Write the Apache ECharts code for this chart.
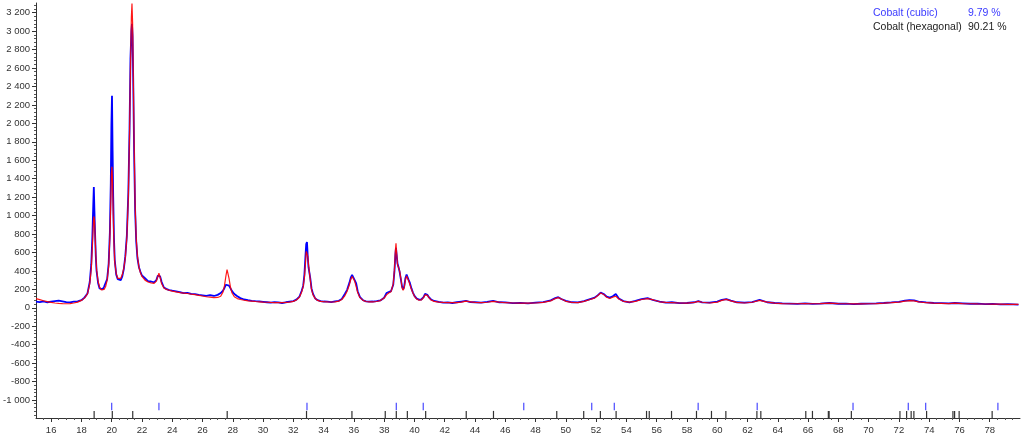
<!DOCTYPE html>
<html>
<head>
<meta charset="utf-8">
<script src="https://cdn.jsdelivr.net/npm/echarts@6/dist/echarts.min.js"></script>
<style>html,body{margin:0;padding:0;background:#fff}#c{width:1024px;height:438px}</style>
</head>
<body>
<div id="c"></div>
<script>
// 2-theta positions (degrees)
const twoTheta = [
15.0,15.25,15.5,15.75,16.0,16.25,16.5,16.75,17.0,17.25,17.5,17.75,18.0,18.2,
18.4,18.55,18.65,18.72,18.78,18.82,18.86,18.9,18.95,19.0,19.1,19.2,19.3,19.4,19.5,
19.6,19.7,19.8,19.88,19.94,19.98,20.02,20.06,20.1,20.15,20.2,20.3,20.4,20.5,20.6,
20.7,20.8,20.9,21.0,21.1,21.18,21.24,21.3,21.34,21.38,21.42,21.48,21.55,21.62,21.7,21.8,21.9,22.0,22.2,22.4,
22.6,22.8,22.95,23.05,23.12,23.2,23.3,23.45,23.6,23.8,24.0,24.25,24.5,24.75,25.0,25.25,25.5,25.75,26.0,26.25,26.5,26.75,27.0,27.2,
27.35,27.45,27.55,27.62,27.68,27.75,27.85,27.95,28.1,28.3,28.5,28.75,29.0,29.25,29.5,
29.75,30.0,30.25,30.5,30.75,31.0,31.25,31.5,31.75,32.0,32.2,32.4,32.55,
32.65,32.73,32.8,32.85,32.9,32.95,33.0,33.05,33.12,33.2,33.3,33.45,33.6,33.8,34.0,
34.25,34.5,34.75,35.0,35.2,35.4,
35.55,35.7,35.8,35.88,35.95,36.05,36.15,36.25,36.4,36.6,36.8,37.0,
37.25,37.5,37.75,38.0,38.15,38.3,38.45,38.6,
38.68,38.74,38.78,38.82,38.88,38.95,39.02,39.1,39.18,39.25,39.32,
39.4,39.48,39.55,39.62,39.7,39.8,39.9,40.0,40.15,40.3,40.45,
40.6,40.7,40.78,40.86,40.95,41.1,41.3,41.6,41.9,42.2,42.5,42.8,
43.1,43.4,43.7,44.0,44.4,44.8,45.2,45.6,46.0,46.5,47.0,47.5,48.0,48.5,49.0,49.3,49.5,49.7,50.0,50.4,
50.8,51.2,51.6,51.9,52.1,52.3,52.5,52.7,52.9,53.1,53.3,53.5,53.8,54.2,54.6,55.0,55.4,55.8,56.2,56.6,
57.0,57.5,58.0,58.5,58.75,59.0,59.5,60.0,60.3,60.6,60.9,61.3,61.8,62.3,62.8,63.3,63.8,64.3,64.8,65.3,
65.8,66.3,66.8,67.4,68.0,68.5,69.0,69.5,70.0,70.5,71.0,71.5,72.0,72.4,72.7,73.0,73.3,73.8,74.3,74.8,
75.3,75.7,76.2,76.7,77.2,77.7,78.2,78.7,79.2,79.9
];
// observed intensity (blue)
const observed = [
68,62,70,60,66,72,78,70,62,58,66,70,82,110,
155,280,470,760,1100,1310,1050,820,560,400,270,210,190,200,230,
250,310,480,820,1350,1980,2300,1700,1200,760,520,360,310,330,300,
340,420,560,780,1250,1950,2700,3000,3080,2950,2500,1700,1050,720,540,440,390,350,320,290,
285,275,300,350,370,340,280,220,205,192,185,178,170,158,162,150,148,140,135,130,138,128,140,160,
185,215,250,268,262,240,210,180,150,125,105,90,82,75,72,
70,65,60,55,62,58,52,60,66,72,88,120,185,
240,360,560,690,713,560,440,430,320,210,150,100,82,72,68,
66,62,70,76,95,150,
195,270,330,358,345,300,265,180,115,82,70,66,
68,72,80,110,160,170,180,250,
400,580,650,580,480,440,390,310,230,200,230,
320,360,345,300,270,210,165,130,100,88,90,
115,150,160,140,115,90,74,64,56,58,52,60,
68,75,62,60,55,64,74,60,58,50,54,48,55,62,80,105,115,95,75,60,
58,72,95,110,135,165,150,120,110,125,150,100,72,60,75,95,105,82,68,55,
60,50,52,60,72,58,55,66,85,95,78,60,55,62,85,60,52,48,46,42,
48,42,46,52,44,46,40,44,45,48,52,58,65,78,82,80,68,58,52,50,
48,52,48,44,45,40,42,38,40,35
];
// calculated intensity (red)
const calculated = [
100,88,76,66,58,52,48,45,44,46,52,62,80,105,
150,260,420,650,880,990,960,800,580,420,290,225,195,185,200,
230,300,450,760,1150,1450,1530,1350,1000,700,500,370,320,305,320,
360,430,540,760,1200,1900,2600,3150,3300,3100,2600,1800,1100,750,560,440,380,340,300,280,
270,265,290,340,375,330,260,215,200,190,180,172,165,160,155,148,142,135,128,120,115,110,112,125,
170,240,350,415,400,320,220,160,120,100,90,82,76,72,68,
65,62,60,58,57,56,57,58,62,70,85,115,170,
230,330,480,610,630,560,470,400,300,200,140,100,80,70,66,
64,63,65,72,90,130,
180,250,310,340,330,290,230,165,110,80,68,64,
65,68,78,105,140,160,175,260,
420,620,700,600,470,450,400,320,220,190,215,
300,345,330,290,250,200,160,125,95,82,85,
110,140,150,135,110,85,70,62,58,56,55,56,
62,72,65,58,56,60,70,62,55,52,50,50,52,58,75,100,110,95,70,58,
56,70,90,105,130,160,145,115,100,115,125,95,70,62,70,90,100,85,65,58,
56,52,50,58,70,60,52,62,80,92,75,58,52,60,80,62,50,46,44,44,
46,44,45,50,46,44,42,43,44,46,50,55,62,72,78,75,65,55,50,48,
46,50,46,44,42,41,40,40,38,36
];
// reflection positions
const cubicPeaks = [20.0,23.12,32.9,38.8,40.58,47.22,51.71,53.2,58.74,62.64,68.97,72.62,73.77,78.54];
const hexPeaks = [18.84,20.04,21.39,27.63,32.87,35.87,38.07,38.8,39.53,40.74,43.42,45.22,49.4,51.18,52.28,53.32,55.33,55.51,56.98,
58.63,59.62,60.57,62.62,62.88,65.85,66.29,67.34,67.39,68.86,72.07,72.51,72.81,72.99,73.83,75.57,75.68,75.98,78.16];
// tick labels
const xTicks = [16,18,20,22,24,26,28,30,32,34,36,38,40,42,44,46,48,50,52,54,56,58,60,62,64,66,68,70,72,74,76,78];
const yTicks = [-1000,-800,-600,-400,-200,0,200,400,600,800,1000,1200,1400,1600,1800,2000,2200,2400,2600,2800,3000,3200];
const phaseNames = ['Cobalt (cubic)','Cobalt (hexagonal)'];
const phaseFractions = ['9.79 %','90.21 %'];

const X_MIN = 15, X_MAX = 80, Y_MIN = -1195, Y_MAX = 3305;
const xMinor = []; for (let v = 15.5; v < X_MAX; v += 0.5) if (xTicks.indexOf(v) < 0) xMinor.push(v);
const yMinor = []; for (let v = -1160; v < Y_MAX; v += 40) if (v % 200 !== 0) yMinor.push(v);

const obsData = twoTheta.map((t, i) => [t, observed[i]]);
const calcData = twoTheta.map((t, i) => [t, calculated[i]]);
const fmt = v => String(v).replace(/\B(?=(\d{3})+(?!\d))/g, ' ');
const axisCol = '#333';
const lbl = {fontFamily: 'Liberation Sans, Arial, sans-serif', fontSize: 9.5, color: '#333'};
const legendFont = '10.5px Liberation Sans, Arial, sans-serif';

function markerSeries(peaks, y1, y2, color) {
  return {
    type: 'custom', xAxisIndex: 0, yAxisIndex: 0, silent: true, z: 5,
    data: peaks.map(p => [p, y1, y2]),
    renderItem: (params, api) => {
      const a = api.coord([api.value(0), api.value(1)]);
      const b = api.coord([api.value(0), api.value(2)]);
      return {type: 'line', shape: {x1: a[0], y1: a[1], x2: b[0], y2: b[1]}, style: {stroke: color, lineWidth: 1.2}};
    }
  };
}

const chart = echarts.init(document.getElementById('c'), null, {renderer: 'canvas'});
chart.setOption({
  animation: false,
  grid: {left: 36, right: 4, top: 3, bottom: 20, containLabel: false},
  xAxis: [
    {type: 'value', min: X_MIN, max: X_MAX, splitLine: {show: false},
     axisLine: {show: true, onZero: false, lineStyle: {color: axisCol, width: 1}},
     axisTick: {show: true, customValues: xTicks, length: 4, lineStyle: {color: axisCol}},
     axisLabel: Object.assign({customValues: xTicks, margin: 7}, lbl)},
    {type: 'value', min: X_MIN, max: X_MAX, position: 'bottom', splitLine: {show: false},
     axisLine: {show: false, onZero: false}, axisLabel: {show: false},
     axisTick: {show: true, customValues: xMinor, length: 2, lineStyle: {color: '#555'}}}
  ],
  yAxis: [
    {type: 'value', min: Y_MIN, max: Y_MAX, splitLine: {show: false},
     axisLine: {show: true, onZero: false, lineStyle: {color: axisCol, width: 1}},
     axisTick: {show: true, customValues: yTicks, length: 4, lineStyle: {color: axisCol}},
     axisLabel: Object.assign({customValues: yTicks, margin: 6, formatter: fmt}, lbl)},
    {type: 'value', min: Y_MIN, max: Y_MAX, position: 'left', splitLine: {show: false},
     axisLine: {show: false, onZero: false}, axisLabel: {show: false},
     axisTick: {show: true, customValues: yMinor, length: 2, lineStyle: {color: '#555'}}}
  ],
  series: [
    {type: 'line', data: obsData, symbol: 'none', lineStyle: {color: '#0000ff', width: 1.8}, z: 2},
    {type: 'line', data: calcData, symbol: 'none', lineStyle: {color: '#ff0000', width: 1.2, opacity: 0.9}, z: 3},
    markerSeries(cubicPeaks, -1030, -1112, '#4a4aff'),
    markerSeries(hexPeaks, -1118, -1195, '#333')
  ],
  graphic: [
    {type: 'text', left: 873, top: 8, style: {text: phaseNames[0], fill: '#3b3bff', font: legendFont}},
    {type: 'text', left: 968, top: 8, style: {text: phaseFractions[0], fill: '#3b3bff', font: legendFont}},
    {type: 'text', left: 873, top: 22, style: {text: phaseNames[1], fill: '#222', font: legendFont}},
    {type: 'text', left: 968, top: 22, style: {text: phaseFractions[1], fill: '#222', font: legendFont}}
  ]
});
</script>
</body>
</html>
